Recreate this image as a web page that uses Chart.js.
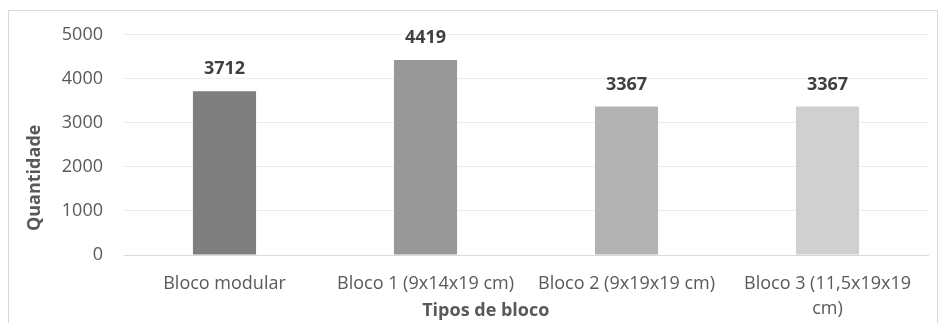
<!DOCTYPE html>
<html>
<head>
<meta charset="utf-8">
<script src="https://cdn.jsdelivr.net/npm/chart.js@4.4.1/dist/chart.umd.min.js"></script>
<style>
  html, body { margin: 0; padding: 0; background: #ffffff; }
  #frame {
    position: absolute; left: 8px; top: 10px;
    width: 930px; height: 340px;
    border: 1px solid #d9d9d9; box-sizing: border-box; background: #fff;
  }
  canvas { display: block; }
</style>
</head>
<body>
<div id="frame"><canvas id="c" width="928" height="338"></canvas></div>
<script>
// Quantidade de blocos por tipo
const categories = [
  "Bloco modular",
  "Bloco 1 (9x14x19 cm)",
  "Bloco 2 (9x19x19 cm)",
  ["Bloco 3 (11,5x19x19", "cm)"]
];
const quantities = [3712, 4419, 3367, 3367];
const barColors = ["#7f7f7f", "#989898", "#b3b3b3", "#d0d0d0"];
const yTicks = [0, 1000, 2000, 3000, 4000, 5000];

const FONT = "'Open Sans', 'Liberation Sans', sans-serif";
const SIZE = 18;

// Value labels above the bars plus both axis titles
const annotate = {
  id: "annotate",
  afterDatasetsDraw(chart) {
    const ctx = chart.ctx;
    const meta = chart.getDatasetMeta(0);
    ctx.save();
    ctx.font = "bold " + SIZE + "px " + FONT;
    ctx.fillStyle = "#404040";
    ctx.textAlign = "center";
    ctx.textBaseline = "middle";
    meta.data.forEach((bar, i) => {
      ctx.fillText(String(quantities[i]), bar.x, bar.y - 22);
    });
    ctx.restore();
  },
  afterDraw(chart) {
    const ctx = chart.ctx;
    const a = chart.chartArea;
    ctx.save();
    ctx.font = "bold " + SIZE + "px " + FONT;
    ctx.fillStyle = "#595959";
    ctx.textAlign = "center";
    ctx.textBaseline = "middle";
    ctx.fillText("Tipos de bloco", a.left + (a.right - a.left) * 0.45, a.bottom + 56);
    ctx.translate(26, a.top + (a.bottom - a.top) * 0.65);
    ctx.rotate(-Math.PI / 2);
    ctx.fillText("Quantidade", 0, 0);
    ctx.restore();
  }
};

new Chart(document.getElementById("c"), {
  type: "bar",
  data: {
    labels: categories,
    datasets: [{
      data: quantities,
      backgroundColor: barColors,
      borderWidth: 0,
      barPercentage: 0.314,
      categoryPercentage: 1
    }]
  },
  options: {
    responsive: false,
    animation: false,
    layout: { padding: { top: 23.5, right: 9, bottom: 0, left: 0 } },
    plugins: { legend: { display: false }, tooltip: { enabled: false } },
    scales: {
      x: {
        grid: { display: false, drawTicks: false },
        border: { display: true, color: "#d9d9d9", width: 1 },
        ticks: {
          color: "#595959",
          font: { family: FONT, size: SIZE, lineHeight: 1.4 },
          padding: 16.5,
          maxRotation: 0,
          autoSkip: false
        },
        afterFit(scale) { scale.height = 94; }
      },
      y: {
        min: 0,
        max: 5000,
        afterBuildTicks(scale) { scale.ticks = yTicks.map(v => ({ value: v })); },
        grid: {
          drawTicks: true,
          tickLength: 21,
          tickColor: "rgba(0,0,0,0)",
          color: (c) => (c.tick && c.tick.value === 0 ? "#d9d9d9" : "#ececec")
        },
        border: { display: false },
        ticks: {
          color: "#595959",
          font: { family: FONT, size: SIZE },
          padding: 0,
          callback: (v) => String(v)
        },
        afterFit(scale) { scale.width = 115; }
      }
    }
  },
  plugins: [annotate]
});
</script>
</body>
</html>
